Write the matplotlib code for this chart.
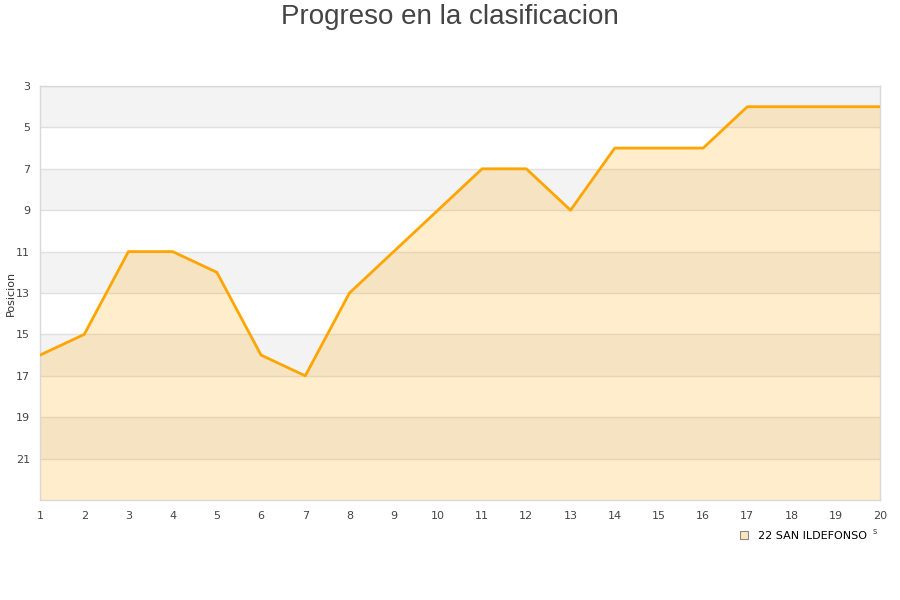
import matplotlib
matplotlib.use("Agg")
import matplotlib.pyplot as plt
from matplotlib.lines import Line2D

jornadas = list(range(1, 21))
posiciones = [16, 15, 11, 11, 12, 16, 17, 13, 11, 9, 7, 7, 9, 6, 6, 6, 4, 4, 4, 4]
yticks = [3, 5, 7, 9, 11, 13, 15, 17, 19, 21]
team = "22 SAN ILDEFONSO"
title = "Progreso en la clasificacion"
ylabel = "Posicion"

fig = plt.figure(figsize=(9, 6), dpi=100)
ax = fig.add_axes([40/900, 100/600, 840/900, 414/600])

ymin, ymax = 3, 23
# alternating bands
for start in range(3, 23, 4):
    ax.axhspan(start, start + 2, color="#f3f3f3", zorder=0, lw=0)
for y in yticks:
    ax.axhline(y, color="#e0e0e0", lw=1, zorder=1)

ax.fill_between(jornadas, posiciones, ymax, color="#ffa500", alpha=0.2, lw=0, zorder=2)
ax.plot(jornadas, posiciones, color="#ffa500", lw=2, zorder=3)

ax.set_xlim(1, 20)
ax.set_ylim(ymax, ymin)
ax.set_xticks(jornadas)
ax.set_yticks(yticks)
ax.tick_params(axis="both", length=0, labelsize=8, colors="#444444")
ax.tick_params(axis="x", pad=8)
ax.tick_params(axis="y", pad=7)
for s in ax.spines.values():
    s.set_color("#d8d8d8")
    s.set_linewidth(1)

fig.text(11/900, 1 - 293/600, ylabel, rotation=90, fontsize=8, color="#333333",
         ha="center", va="center")
fig.text(0.5, 1 - 17/600, title, ha="center", va="center", fontsize=20,
         color="#444444", family="Liberation Sans")

handle = Line2D([], [], marker="s", linestyle="none", markersize=6,
                markerfacecolor="#fde5c0", markeredgecolor="#888888", markeredgewidth=0.8)
leg = fig.legend([handle], [team], loc="center left", bbox_to_anchor=(728/900, 1 - 536/600),
                 frameon=False, fontsize=8, handletextpad=0.3, borderaxespad=0)
fig.text(875/900, 1 - 532/600, "s", fontsize=6, color="#444444", ha="center", va="center")

fig.savefig("out.png", dpi=100)
